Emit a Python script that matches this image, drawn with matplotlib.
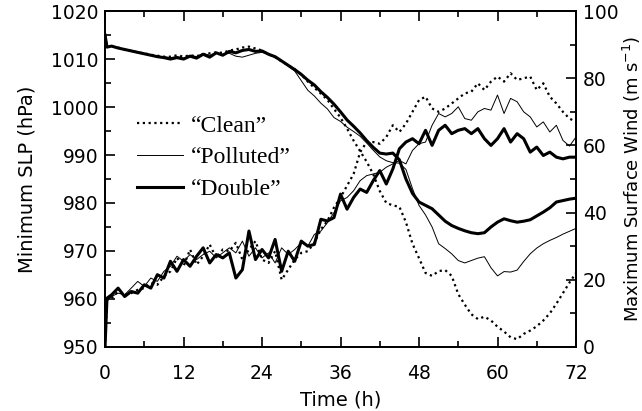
import numpy as np
import matplotlib.pyplot as plt
from matplotlib.ticker import MultipleLocator

# time axis: first step is short, then hourly output
HOURS = np.concatenate([[0, 0.3], np.arange(1, 73)])

# minimum sea level pressure (hPa)
SLP_CLEAN = [1015, 1012.5, 1012.7, 1012.4, 1012.0, 1011.7, 1011.4, 1011.2, 1010.9, 1010.7,
             1010.5, 1010.5, 1010.8, 1010.5, 1010.8, 1010.6, 1011.0, 1011.2, 1011.4, 1011.3,
             1011.8, 1012.0, 1012.4, 1012.6, 1012.2, 1011.8, 1011.0, 1010.4, 1009.5, 1008.7,
             1007.9, 1006.8, 1005.3, 1004.0, 1002.8, 1001.5, 999.6, 997.8, 995.5, 993.0,
             990.8, 988.6, 986.0, 982.5, 980.0, 979.5, 979.2, 976.0, 971.5, 968.5,
             965.4, 964.8, 965.8, 966.0, 964.8, 961.0, 958.8, 956.8, 955.8, 956.3,
             955.5, 954.2, 953.2, 952.0, 951.6, 952.7, 953.4, 954.3, 955.5, 957.0,
             959.0, 961.2, 963.4, 965.4]
SLP_POLLUTED = [1015, 1012.5, 1012.7, 1012.3, 1012.0, 1011.6, 1011.3, 1011.0, 1010.8, 1010.6,
                1010.5, 1010.3, 1010.5, 1010.2, 1010.8, 1010.5, 1011.2, 1010.8, 1011.3, 1011.0,
                1011.2, 1010.6, 1010.4, 1010.8, 1011.2, 1011.4, 1011.0, 1010.3, 1009.5, 1008.5,
                1007.5, 1005.5, 1003.5, 1002.3, 1000.8, 999.6, 997.8, 997.0, 995.8, 994.9,
                993.9, 992.5, 991.0, 989.6, 988.8, 988.4, 988.3, 987.0, 983.0, 979.5,
                977.5, 975.0, 971.5, 970.5, 969.4, 968.0, 967.5, 968.0, 968.5, 968.8,
                966.5, 964.8, 965.7, 965.6, 966.0, 967.8, 969.4, 970.6, 971.5, 972.2,
                972.8, 973.5, 974.1, 974.7]
SLP_DOUBLE = [1015, 1012.5, 1012.7, 1012.3, 1012.0, 1011.7, 1011.4, 1011.1, 1010.8, 1010.5,
              1010.3, 1010.0, 1010.3, 1010.0, 1010.6, 1010.2, 1011.0, 1010.4, 1011.3, 1010.8,
              1011.6, 1011.3, 1011.8, 1012.0, 1011.6, 1011.7, 1011.0, 1010.5, 1009.6, 1008.7,
              1007.8, 1006.8, 1005.6, 1004.6, 1003.2, 1002.0, 1000.6, 999.0, 997.3, 996.0,
              994.6, 993.0, 991.6, 990.4, 990.2, 990.4, 989.0, 985.0, 982.0, 980.2,
              979.5, 978.8, 977.5, 976.2, 975.3, 974.7, 974.2, 973.8, 973.6, 973.8,
              975.0, 976.0, 976.7, 976.3, 976.0, 976.2, 976.5, 977.3, 978.1, 979.0,
              980.2, 980.5, 980.8, 981.0]

# maximum surface wind (m/s)
WIND_CLEAN = [0, 14.0, 14.5, 16.5, 15.5, 16.0, 17.0, 17.5, 19.0, 18.5,
              21.0, 22.5, 26.5, 24.0, 29.0, 24.5, 27.0, 30.5, 26.5, 29.0,
              28.5, 31.0, 26.0, 29.0, 31.5, 26.0, 25.0, 28.5, 20.0, 23.0,
              26.0, 28.0, 28.5, 31.0, 35.0, 37.5, 41.5, 44.5, 48.0, 51.5,
              58.0, 61.0, 61.0, 60.5, 62.5, 66.0, 64.0, 66.5, 70.0, 73.5,
              74.5, 71.0, 70.0, 71.0, 72.5, 74.0, 75.5, 76.0, 78.5, 76.5,
              79.0, 80.5, 79.0, 81.5, 79.5, 80.0, 80.5, 76.5, 78.5, 74.5,
              72.5, 70.0, 68.0, 67.0]
WIND_POLLUTED = [0, 14.0, 15.0, 16.0, 15.5, 17.5, 19.5, 18.0, 20.5, 19.5,
                 22.5, 24.0, 27.0, 25.5, 27.5, 26.0, 27.5, 28.5, 26.5, 28.0,
                 29.5, 28.0, 31.5, 27.0, 29.5, 26.5, 28.0, 25.0, 29.5, 27.5,
                 29.0, 31.0, 30.0, 33.5, 34.5, 37.0, 40.0, 43.5, 44.5, 46.5,
                 49.5, 51.0, 51.5, 52.0, 53.5, 54.5, 55.5, 54.5, 58.5, 60.5,
                 61.0, 66.0, 69.5, 68.5, 69.5, 71.5, 68.0, 67.5, 70.0, 71.0,
                 70.5, 75.0, 69.5, 74.0, 73.0, 70.0, 68.5, 65.5, 67.0, 64.0,
                 66.0, 61.5, 59.8, 62.5]
WIND_DOUBLE = [0, 14.5, 15.5, 17.5, 15.0, 16.5, 16.0, 18.5, 17.5, 21.5,
               20.5, 25.5, 22.5, 26.0, 24.0, 27.0, 29.5, 25.0, 27.5, 26.5,
               28.0, 20.5, 23.0, 34.5, 26.0, 29.0, 26.5, 32.0, 22.5, 28.5,
               25.5, 31.5, 30.0, 30.5, 38.0, 37.5, 38.5, 45.5, 41.0, 44.5,
               47.0, 46.0, 49.5, 52.5, 48.5, 53.0, 59.0, 61.0, 62.0, 60.5,
               64.5, 60.0, 64.5, 66.0, 63.5, 64.5, 65.0, 63.5, 65.0, 62.0,
               60.0, 62.0, 65.0, 61.0, 63.5, 62.0, 58.0, 59.5, 57.0, 58.0,
               56.5, 56.0, 56.5, 56.5]

LEGEND_LABELS = ['\u201cClean\u201d', '\u201cPolluted\u201d', '\u201cDouble\u201d']

plt.rcParams['font.family'] = 'DejaVu Sans'

fig = plt.figure(figsize=(6.42, 4.11), dpi=100)
ax = fig.add_axes([0.1636, 0.156, 0.7336, 0.817])
ax2 = ax.twinx()

dotted = dict(color='black', lw=1.6, linestyle=(0, (1, 1.6)))
thin = dict(color='black', lw=0.7)
thick = dict(color='black', lw=2.2)

l1, = ax.plot(HOURS, SLP_CLEAN, **dotted)
l2, = ax.plot(HOURS, SLP_POLLUTED, **thin)
l3, = ax.plot(HOURS, SLP_DOUBLE, **thick)
ax2.plot(HOURS, WIND_CLEAN, **dotted)
ax2.plot(HOURS, WIND_POLLUTED, **thin)
ax2.plot(HOURS, WIND_DOUBLE, **thick)

ax.set_xlim(0, 72)
ax.set_ylim(950, 1020)
ax2.set_ylim(0, 100)

ax.xaxis.set_major_locator(MultipleLocator(12))
ax.xaxis.set_minor_locator(MultipleLocator(6))
ax.yaxis.set_major_locator(MultipleLocator(10))
ax.yaxis.set_minor_locator(MultipleLocator(5))
ax2.yaxis.set_major_locator(MultipleLocator(20))
ax2.yaxis.set_minor_locator(MultipleLocator(10))

ax.tick_params(axis='both', which='both', direction='in', top=True, labelsize=13.5, width=1.2)
ax.tick_params(axis='both', which='major', length=7)
ax.tick_params(axis='both', which='minor', length=4)
ax.tick_params(axis='x', which='major', pad=12)
ax.tick_params(axis='y', which='major', pad=5)
ax2.tick_params(axis='y', which='both', direction='in', labelsize=13.5, width=1.2)
ax2.tick_params(axis='y', which='major', length=7, pad=5)
ax2.tick_params(axis='y', which='minor', length=4)
for a in (ax, ax2):
    for s in a.spines.values():
        s.set_linewidth(1.3)

ax.set_xlabel('Time (h)', fontsize=14, labelpad=6)
ax.set_ylabel('Minimum SLP (hPa)', fontsize=14, labelpad=10)
ax2.set_ylabel('Maximum Surface Wind (m s$^{-1}$)', fontsize=13, labelpad=2)

leg = ax.legend([l1, l2, l3], LEGEND_LABELS,
                loc='upper left', bbox_to_anchor=(137 / 642, 1 - 115 / 411),
                bbox_transform=fig.transFigure, frameon=False,
                borderpad=0, borderaxespad=0,
                prop={'family': 'Liberation Serif', 'size': 17},
                handlelength=1.95, labelspacing=0.44, handletextpad=0.35)

plt.savefig('out.png', dpi=100)
